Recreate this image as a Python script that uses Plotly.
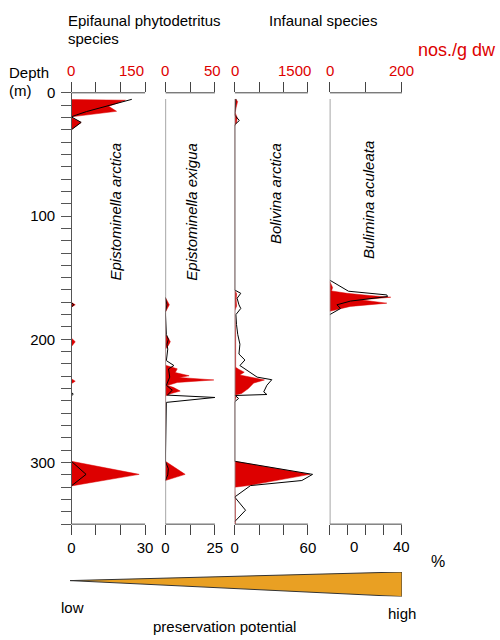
import plotly.graph_objects as go

W, H = 500, 640
RED = "#DD0000"
FONT = "Liberation Sans, Arial, Helvetica, sans-serif"

# ---------------- data ----------------
species = ["Epistominella arctica", "Epistominella exigua", "Bolivina arctica", "Bulimina aculeata"]
nos_max = [150, 50, 1500, 200]
nos_ticks = [[0, 50, 100, 150], [0, 25, 50], [0, 500, 1000, 1500], [0, 100, 200]]
nos_labels = [["0", "150"], ["0", "50"], ["0", "1500"], ["0", "200"]]
pct_max = [30, 25, 60, 40]
pct_ticks = [[0, 10, 20, 30], [0, 12.5, 25], [0, 20, 40, 60], [0, 10, 20, 30, 40]]
pct_ticktext = [["0", "", "", "30"], ["0", "", "25"], ["0", "", "", "60"], ["", "", "", "", ""]]
depth_major = [0, 100, 200, 300]
depth_minor = list(range(0, 351, 10))

# Epistominella arctica
d1_nos = [5.5, 6, 11, 15, 19.5, 20, 24, 30, 170, 172, 174, 199, 202, 206, 232, 234, 236, 299, 309.6, 319]
v1_nos = [0, 110, 76, 92, 0, 0, 20, 0, 0, 8, 0, 0, 8, 0, 0, 8, 0, 0, 138, 0]
d1_pct = [5.3, 9.9, 12, 15.2, 17.9, 19.5, 24, 30, 170, 172, 174, 243, 244.5, 246, 299, 309.6, 319]
v1_pct = [24.6, 15.7, 11.6, 6.2, 2.2, 0, 4, 0, 0, 1, 0, 0, 0.8, 0, 0, 6, 0]

# Epistominella exigua
d2_nos = [166, 169, 172, 175, 178, 196, 199, 202, 205, 208, 221, 224, 227, 229.6, 231, 233, 235, 237.6, 239, 242, 244, 246,
          299, 309.6, 314.6]
v2_nos = [0, 2, 4, 2, 0, 0, 3, 5, 3, 0, 0, 12, 10, 24, 14, 49, 12, 2, 8, 15, 6, 0, 0, 20, 0]
d2_pct = [166, 172, 178, 196, 200, 204, 208, 217.3, 221.3, 224, 230.7, 237.3, 241.3, 245.3, 247.2, 251.2, 299, 305, 310, 314.6]
v2_pct = [0, 0.8, 0, 0.5, 1.5, 0.8, 1.2, 0.5, 4.3, 1.6, 2.2, 0.5, 3.5, 1, 25, 0.5, 0, 1.5, 1.2, 0]

# Bolivina arctica
d3_nos = [5, 7, 12, 16, 20, 24, 27, 160, 163, 168, 173, 177, 196, 205, 215, 222.7, 224.5, 226.7, 229, 233, 235.5, 240, 244,
          245.4, 247, 250, 299, 309.6, 318.7, 320, 330, 345, 350]
v3_nos = [20, 60, 30, 10, 50, 40, 0, 0, 40, 30, 40, 0, 20, 20, 20, 20, 90, 196, 105, 610, 390, 280, 140, 0, 30, 0, 0, 1540,
          280, 0, 15, 15, 15]
d3_pct = [5, 10, 18, 22.5, 26, 160, 162.7, 166.7, 172, 175, 180, 188, 196, 204, 212, 216.8, 221.3, 230.7, 232.8, 237.3,
          242.7, 244.8, 245.6, 248, 250.7, 299, 309.6, 314.6, 318.7, 328, 338.7, 348]
v3_pct = [1, 0.5, 0, 3.8, 0, 0, 5, 2, 3.5, 5, 1, 1.5, 2.5, 4.3, 3.5, 8.4, 4.3, 18.4, 30.4, 26.4, 23.8, 26.4, 0.5, 3.2, 0,
          0, 63.8, 55, 13, 0, 8.9, 0]

# Bulimina aculeata
d4_nos = [153, 158, 160.8, 162.7, 164.5, 165.9, 168, 170.7, 173.3, 175.5, 177.3]
v4_nos = [0, 8, 5, 48, 110, 169, 85, 158, 57, 20, 0]
d4_pct = [152, 161, 164, 165.3, 169, 172, 175, 180]
v4_pct = [0, 10.4, 31.6, 32, 11.5, 4, 6, 0]

nos_depths = [d1_nos, d2_nos, d3_nos, d4_nos]
nos_values = [v1_nos, v2_nos, v3_nos, v4_nos]
pct_depths = [d1_pct, d2_pct, d3_pct, d4_pct]
pct_values = [v1_pct, v2_pct, v3_pct, v4_pct]

# preservation-potential wedge (low -> high)
wedge_x = [0, 1, 1, 0]
wedge_y = [0.3, 1, -1, 0.3]

# ---------------- layout geometry (pixels) ----------------
panel_px = [(68, 142.5, 150), (163, 213, 222), (233, 307, 318), (329, 402, 410)]
top_label_shift = [("right", 1), ("center", -2), ("right", 5), ("center", 0)]
Y_TOP, Y_BOT = 85, 522.5


def fx(p):
    return p / W


def fy(p):
    return 1 - p / H


fig = go.Figure()
layout = dict(
    width=W, height=H, autosize=False,
    margin=dict(l=0, r=0, t=0, b=0),
    paper_bgcolor="white", plot_bgcolor="rgba(0,0,0,0)",
    showlegend=False,
    font=dict(family=FONT, size=15, color="black"),
)

layout["yaxis"] = dict(
    domain=[fy(Y_BOT), fy(Y_TOP)], range=[350, 0], anchor="free", position=fx(68),
    showline=True, linecolor="#555", linewidth=1.2, showgrid=False, zeroline=False,
    ticks="outside", ticklen=10, tickcolor="#555", tickwidth=1,
    tickvals=depth_major, ticktext=[str(v) for v in depth_major], ticklabelstandoff=3,
    tickfont=dict(size=15, color="black", family=FONT),
    minor=dict(tickmode="array", tickvals=depth_minor, ticks="outside", ticklen=10, tickcolor="#555", tickwidth=1),
)

shapes = []
annotations = []

for i in range(4):
    p0, p1, pe = panel_px[i]
    top_id = 2 * i + 1
    bot_id = 2 * i + 2
    top_name = "x" if top_id == 1 else f"x{top_id}"
    bot_name = f"x{bot_id}"
    frac = (pe - p0) / (p1 - p0)
    layout["xaxis" if top_id == 1 else f"xaxis{top_id}"] = dict(
        domain=[fx(p0), fx(pe)], range=[0, nos_max[i] * frac], anchor="y", side="top",
        showline=False, showgrid=False, zeroline=False,
        ticks="outside", ticklen=10, tickcolor="#444", tickwidth=1,
        tickvals=nos_ticks[i], ticktext=[""] * len(nos_ticks[i]),
    )
    layout[f"xaxis{bot_id}"] = dict(
        overlaying=top_name, range=[0, pct_max[i] * frac], anchor="y", side="bottom",
        showline=False, showgrid=False, zeroline=False,
        ticks="outside", ticklen=10, tickcolor="#444", tickwidth=1,
        tickvals=pct_ticks[i], ticktext=pct_ticktext[i],
        tickfont=dict(size=15, color="black", family=FONT),
    )
    anch, shift = top_label_shift[i]
    annotations.append(dict(text=nos_labels[i][0], xref=top_name, yref="paper", x=0, y=fy(62),
                            showarrow=False, xanchor="center", yanchor="middle",
                            font=dict(size=15, color=RED)))
    annotations.append(dict(text=nos_labels[i][1], xref=top_name, yref="paper", x=nos_max[i], y=fy(62),
                            showarrow=False, xanchor=anch, yanchor="middle", xshift=shift,
                            font=dict(size=15, color=RED)))
    shapes.append(dict(type="line", xref=top_name, yref="paper", x0=0, x1=nos_max[i],
                       y0=fy(Y_TOP), y1=fy(Y_TOP), line=dict(color="#444", width=1)))
    shapes.append(dict(type="line", xref=bot_name, yref="paper", x0=0, x1=pct_max[i],
                       y0=fy(Y_BOT), y1=fy(Y_BOT), line=dict(color="#444", width=1)))
    if i > 0:
        shapes.append(dict(type="line", xref=top_name, yref="y", x0=0, x1=0, y0=5, y1=350,
                           line=dict(color="#8a8a8a", width=1.5)))

    fig.add_trace(go.Scatter(
        x=nos_values[i], y=nos_depths[i], xaxis=top_name, yaxis="y", mode="lines",
        line=dict(color=RED, width=0.5), fill="tozerox", fillcolor=RED, hoverinfo="skip"))
    fig.add_trace(go.Scatter(
        x=pct_values[i], y=pct_depths[i], xaxis=bot_name, yaxis="y", mode="lines",
        line=dict(color="black", width=1), hoverinfo="skip"))

annotations.append(dict(text="0", xref="x8", yref="paper", x=13.2, y=fy(545), showarrow=False,
                        xanchor="center", yanchor="middle", font=dict(size=15)))
annotations.append(dict(text="40", xref="x8", yref="paper", x=40, y=fy(545), showarrow=False,
                        xanchor="center", yanchor="middle", font=dict(size=15)))

layout["xaxis9"] = dict(domain=[fx(66.7), fx(402)], range=[0, 1], anchor="y2", visible=False)
layout["yaxis2"] = dict(domain=[fy(596), fy(571)], range=[-1, 1], anchor="x9", visible=False)
fig.add_trace(go.Scatter(x=wedge_x, y=wedge_y, xaxis="x9", yaxis="y2", mode="lines",
                         fill="toself", fillcolor="#E9A023", line=dict(color="#333", width=1),
                         hoverinfo="skip"))

sp_pos = [(113, 205.5), (190, 205.5), (275, 187.5), (368, 193.5)]
for name, (px, py) in zip(species, sp_pos):
    annotations.append(dict(text=f"<i>{name}</i>", xref="paper", yref="paper", x=fx(px), y=fy(py),
                            textangle=-90, showarrow=False, xanchor="center", yanchor="middle",
                            font=dict(size=15)))


def txt(t, x, y, xanchor="left", size=15, color="black"):
    annotations.append(dict(text=t, xref="paper", yref="paper", x=fx(x), y=fy(y), showarrow=False,
                            xanchor=xanchor, yanchor="middle", font=dict(size=size, color=color)))


txt("Epifaunal phytodetritus", 63, 12)
txt("species", 63, 30)
txt("Infaunal species", 266, 12)
txt("nos./g dw", 416, 42, size=18, color=RED)
txt("Depth", 3, 64)
txt("(m)", 3, 83)
txt("%", 438, 560, xanchor="center", size=16)
txt("low", 69, 607, xanchor="center")
txt("high", 402, 613, xanchor="center")
txt("preservation potential", 223, 626, xanchor="center")

layout["shapes"] = shapes
layout["annotations"] = annotations
fig.update_layout(**layout)

# remove the default page margin so the 500x640 figure fills the window exactly
js = """
document.documentElement.style.margin='0';
document.documentElement.style.padding='0';
document.body.style.margin='0';
document.body.style.padding='0';
document.documentElement.style.overflow='hidden';
document.body.style.overflow='hidden';
var gd=document.getElementsByClassName('plotly-graph-div')[0];
gd.style.position='absolute'; gd.style.top='0px'; gd.style.left='0px';
"""
fig.write_html("out.html", post_script=js)
